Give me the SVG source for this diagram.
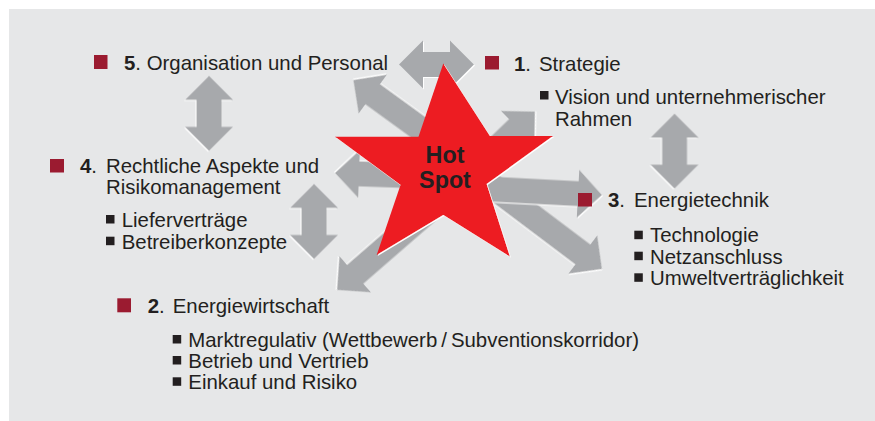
<svg xmlns="http://www.w3.org/2000/svg" xmlns:xlink="http://www.w3.org/1999/xlink" width="875" height="421" viewBox="0 0 875 421">
<defs>
<style>
text{font-family:"Liberation Sans",Arial,sans-serif;font-size:20.4px;fill:#231f20}
.b{font-weight:bold}
.sq{fill:#9b1b30}
.bl{fill:#231f20}
.arr{fill:#a7a9ac;filter:url(#hl)}
.hot{font-size:23.3px;font-weight:bold;text-anchor:middle}
</style>
<filter id="hl" x="-20%" y="-20%" width="140%" height="140%">
<feOffset in="SourceAlpha" dx="1.3" dy="1.3" result="o"/>
<feFlood flood-color="#ffffff"/>
<feComposite in2="o" operator="in" result="w"/>
<feMerge><feMergeNode in="w"/><feMergeNode in="SourceGraphic"/></feMerge>
</filter>
<path id="dbl" d="M-37.5,0 L-13.5,-24 L-13.5,-12.5 L13.5,-12.5 L13.5,-24 L37.5,0 L13.5,24 L13.5,12.5 L-13.5,12.5 L-13.5,24 Z"/>
<path id="a60" d="M0,0 L-24,-24 L-24,-12.5 L-60,-12.5 L-60,12.5 L-24,12.5 L-24,24 Z"/>
<path id="a110" d="M0,0 L-24,-24 L-24,-12.5 L-110,-12.5 L-110,12.5 L-24,12.5 L-24,24 Z"/>
<path id="a150" d="M0,0 L-24,-24 L-24,-12.5 L-150,-12.5 L-150,12.5 L-24,12.5 L-24,24 Z"/>
</defs>
<rect x="9" y="9" width="866" height="412" fill="#e6e7e8"/>
<g id="connectors">
<use href="#dbl" class="arr" transform="translate(436.5,64.5)"/>
<use href="#dbl" class="arr" transform="translate(209,113.4) rotate(90)"/>
<use href="#dbl" class="arr" transform="translate(314,221.5) rotate(90)"/>
<use href="#dbl" class="arr" transform="translate(674.5,151.2) rotate(90)"/>
<use href="#a150" class="arr" transform="translate(602,269) rotate(37)"/>
<use href="#a150" class="arr" transform="translate(602,195) rotate(3)"/>
<use href="#a110" class="arr" transform="translate(353.3,80) rotate(216)"/>
<use href="#a60" class="arr" transform="translate(535,111.5) rotate(-44)"/>
<use href="#a110" class="arr" transform="translate(335,173) rotate(182)"/>
<use href="#a150" class="arr" transform="translate(337,290) rotate(139)"/>
</g>
<g id="hotspot">
<polygon points="443.3,63.5 490,136 553,136 486.7,184 510,256.7 443.3,215 376.7,255 400.5,185 335,136.7 418.5,136.7" fill="#ed1c24" filter="url(#hl)"/>
<text class="hot" x="445" y="163.3">Hot</text>
<text class="hot" x="445" y="187.5">Spot</text>
</g>
<g id="item5">
<rect class="sq" x="94" y="55" width="13.5" height="14"/>
<text x="124" y="70"><tspan class="b">5</tspan>. Organisation und Personal</text>
</g>
<g id="item1">
<rect class="sq" x="485" y="56" width="14" height="13.5"/>
<text x="514" y="70.5"><tspan class="b">1</tspan>. <tspan x="539">Strategie</tspan></text>
<rect class="bl" x="540" y="91" width="8.5" height="8.5"/>
<text x="555" y="104">Vision und unternehmerischer</text>
<text x="555" y="126">Rahmen</text>
</g>
<g id="item3">
<rect class="sq" x="578" y="193" width="14" height="13.5"/>
<text x="608" y="207"><tspan class="b">3</tspan>. <tspan x="634">Energietechnik</tspan></text>
<rect class="bl" x="634.3" y="230.7" width="8.5" height="8.5"/>
<text x="650" y="242">Technologie</text>
<rect class="bl" x="634.3" y="251.7" width="8.5" height="8.5"/>
<text x="650" y="263.5">Netzanschluss</text>
<rect class="bl" x="634.3" y="273.3" width="8.5" height="8.5"/>
<text x="650" y="285">Umweltverträglichkeit</text>
</g>
<g id="item4">
<rect class="sq" x="50" y="159" width="14" height="13.5"/>
<text x="80" y="173"><tspan class="b">4</tspan>. <tspan x="106">Rechtliche Aspekte und</tspan></text>
<text x="106" y="193.5">Risikomanagement</text>
<rect class="bl" x="106" y="215" width="8.5" height="8.5"/>
<text x="121.7" y="227">Lieferverträge</text>
<rect class="bl" x="106" y="236.7" width="8.5" height="8.5"/>
<text x="121.7" y="248.5">Betreiberkonzepte</text>
</g>
<g id="item2">
<rect class="sq" x="117.3" y="298.3" width="13.7" height="14"/>
<text x="147.7" y="313.3"><tspan class="b">2</tspan>. <tspan x="172.7">Energiewirtschaft</tspan></text>
<rect class="bl" x="172.7" y="335" width="8.5" height="8.5"/>
<text x="188.3" y="347">Marktregulativ (Wettbewerb<tspan dx="4">/</tspan><tspan dx="4">Subventionskorridor)</tspan></text>
<rect class="bl" x="172.7" y="356" width="8.5" height="8.5"/>
<text x="188.3" y="368">Betrieb und Vertrieb</text>
<rect class="bl" x="172.7" y="377.3" width="8.5" height="8.5"/>
<text x="188.3" y="389.3">Einkauf und Risiko</text>
</g>
</svg>
